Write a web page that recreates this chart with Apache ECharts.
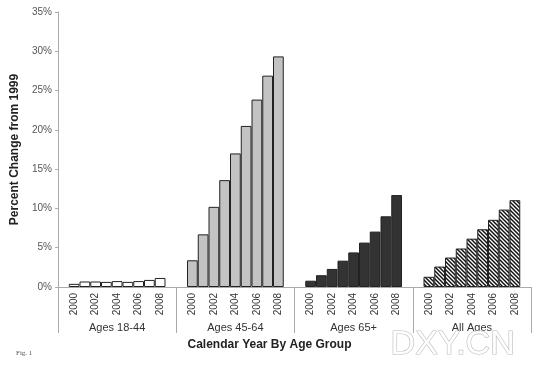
<!DOCTYPE html>
<html>
<head>
<meta charset="utf-8">
<script src="https://cdn.jsdelivr.net/npm/echarts@6/dist/echarts.min.js"></script>
<style>
html,body{margin:0;padding:0;background:#fff;}
#c{width:539px;height:365px;}
</style>
</head>
<body>
<div id="c"></div>
<script>
// ---- data ----
var years = ['2000','2001','2002','2003','2004','2005','2006','2007','2008'];
var groups = ['Ages 18-44','Ages 45-64','Ages 65+','All Ages'];
var ages18_44 = [0.4, 0.7, 0.7, 0.65, 0.75, 0.65, 0.75, 0.9, 1.15];
var ages45_64 = [3.4, 6.7, 10.2, 13.6, 17.0, 20.5, 23.85, 26.9, 29.35];
var ages65p   = [0.8, 1.5, 2.3, 3.35, 4.4, 5.65, 7.05, 9.0, 11.7];
var allAges   = [1.3, 2.6, 3.75, 4.9, 6.15, 7.35, 8.55, 9.85, 11.05];
var yTicks = [0, 5, 10, 15, 20, 25, 30, 35];

// build slot categories: each group has a blank slot, 9 years, a blank slot
var cats = [];
groups.forEach(function(g, gi){
  cats.push('');
  years.forEach(function(y){ cats.push(y); });
  cats.push('');
});
function slotData(vals, gi){
  var arr = [];
  for (var i = 0; i < cats.length; i++) arr.push(null);
  vals.forEach(function(v, k){ arr[gi * 11 + 1 + k] = v; });
  return arr;
}

// hatch pattern
var pc = document.createElement('canvas');
pc.width = 4; pc.height = 4;
var ctx = pc.getContext('2d');
ctx.fillStyle = '#fff'; ctx.fillRect(0,0,4,4);
ctx.strokeStyle = '#111'; ctx.lineWidth = 1.5;
ctx.beginPath();
ctx.moveTo(0,0); ctx.lineTo(4,4);
ctx.moveTo(-2,2); ctx.lineTo(2,6);
ctx.moveTo(2,-2); ctx.lineTo(6,2);
ctx.stroke();

var font = 'Liberation Sans, Arial, sans-serif';
var chart = echarts.init(document.getElementById('c'));
var series = [
  {vals: ages18_44, color: '#ffffff'},
  {vals: ages45_64, color: '#c3c3c3'},
  {vals: ages65p, color: '#333333'},
  {vals: allAges, color: {image: pc, repeat: 'repeat'}}
].map(function(s, gi){
  return {
    type: 'bar',
    xAxisIndex: 0,
    data: slotData(s.vals, gi),
    barGap: '-100%',
    barCategoryGap: '0%',
    itemStyle: {color: s.color, borderColor: '#222', borderWidth: 1},
    silent: true,
    animation: false
  };
});

chart.setOption({
  animation: false,
  backgroundColor: '#fff',
  grid: {left: 58, right: 8, top: 12, bottom: 78, containLabel: false},
  xAxis: [{
    type: 'category',
    data: cats,
    position: 'bottom',
    axisLine: {lineStyle: {color: '#aaa', width: 1}},
    axisTick: {show: false},
    axisLabel: {
      interval: 0, rotate: 90, margin: 6,
      fontSize: 10, color: '#333', fontFamily: font,
      formatter: function(v){ return (v && (+v) % 2 === 0) ? v : ''; }
    }
  }, {
    type: 'category',
    data: groups,
    position: 'bottom',
    axisLine: {show: false},
    axisTick: {show: true, length: 46, interval: 0, lineStyle: {color: '#aaa'}},
    axisLabel: {interval: 0, margin: 35, fontSize: 11, color: '#333', fontFamily: font}
  }],
  yAxis: {
    type: 'value',
    min: yTicks[0], max: yTicks[yTicks.length - 1], interval: 5,
    name: 'Percent Change from 1999',
    nameLocation: 'middle', nameGap: 37,
    nameTextStyle: {fontSize: 12, fontWeight: 'bold', color: '#222', fontFamily: font},
    axisLine: {show: true, lineStyle: {color: '#aaa'}},
    axisTick: {show: true, length: 3, lineStyle: {color: '#aaa'}},
    splitLine: {show: false},
    axisLabel: {formatter: '{value}%', fontSize: 10, color: '#555', margin: 6, fontFamily: font}
  },
  series: series,
  graphic: [
    {type: 'text', left: 'center', top: 339, silent: true, z: 10,
     style: {text: 'Calendar Year By Age Group', fill: '#222', font: 'bold 12px ' + font}},
    {type: 'text', left: 16, top: 350, silent: true,
     style: {text: 'Fig. 1', fill: '#555', font: '7px Liberation Serif, serif'}},
    {type: 'text', left: 390, top: 327, silent: true, z: 20,
     style: {text: 'DXY.CN', fill: 'rgba(255,255,255,0.95)', stroke: '#bbbbbb', lineWidth: 1.2,
             shadowColor: 'rgba(0,0,0,0.25)', shadowBlur: 2, shadowOffsetX: 1, shadowOffsetY: 1,
             font: '34px ' + font}}
  ]
});
</script>
</body>
</html>
